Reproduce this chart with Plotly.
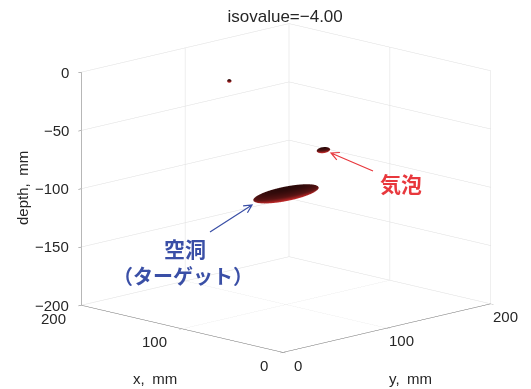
import numpy as np
import plotly.graph_objects as go

# ---------------- data ----------------
x_ticks = [0, 100, 200]
y_ticks = [0, 100, 200]
z_ticks = [-200, -150, -100, -50, 0]
x_range = [0, 200]
y_range = [0, 200]
z_range = [-200, 0]

# isosurface blobs (centre and semi-axes, mm)
blob_names = ["cavity", "bubble", "speck"]
blob_cx = [100, 100, 150]
blob_cy = [100, 136, 94]
blob_cz = [-105, -75, -17]
blob_rx = [10, 3.5, 1.5]
blob_ry = [30, 5.5, 1.5]
blob_rz = [5, 2.3, 1.5]

title_text = "isovalue=−4.00"
W, H = 531, 389

fig = go.Figure()
u = np.linspace(0, 2 * np.pi, 48)
v = np.linspace(0, np.pi, 24)
U, V = np.meshgrid(u, v)
for i, name in enumerate(blob_names):
    ex = blob_cx[i] + blob_rx[i] * np.cos(U) * np.sin(V)
    ey = blob_cy[i] + blob_ry[i] * np.sin(U) * np.sin(V)
    ez = blob_cz[i] + blob_rz[i] * np.cos(V)
    nz = np.cos(V)
    # plotly X axis carries data y, plotly Y axis carries data x (view from x=0,y=0 corner)
    fig.add_trace(go.Surface(
        x=ey, y=ex, z=ez, surfacecolor=nz, cmin=-1, cmax=1,
        colorscale=[[0, "#e23a3a"], [0.35, "#a82222"], [0.6, "#5a1414"], [1, "#2a0909"]],
        showscale=False, name=name, hoverinfo="skip",
        lighting=dict(ambient=1, diffuse=0, specular=0, roughness=1, fresnel=0),
    ))

axis_common = dict(
    showbackground=False, gridcolor="#dedede", gridwidth=1,
    showline=True, linecolor="#6e6e6e", linewidth=1,
    zeroline=False, showspikes=False, ticks="outside", ticklen=4,
    tickcolor="#6e6e6e", showticklabels=False,
    title=dict(text=""),
)

m = 1.54
fig.update_layout(
    width=W, height=H, margin=dict(l=0, r=0, t=0, b=0),
    paper_bgcolor="white", plot_bgcolor="white",
    showlegend=False,
    font=dict(family="Liberation Sans", color="#262626"),
    title=dict(text=title_text, x=0.537, xanchor="center", y=0.958, yanchor="middle",
               font=dict(size=17, color="#262626", family="Liberation Sans")),
    scene=dict(
        domain=dict(x=[0.077, 1.0], y=[0.034, 1.0]),
        xaxis=dict(range=y_range, tickvals=y_ticks, **axis_common),
        yaxis=dict(range=x_range, tickvals=x_ticks, **axis_common),
        zaxis=dict(range=z_range, tickvals=z_ticks, **axis_common),
        aspectmode="manual", aspectratio=dict(x=1.015 * m, y=0.985 * m, z=0.828 * m),
        camera=dict(eye=dict(x=-1.0, y=-1.0, z=0.34), up=dict(x=0, y=0, z=1),
                    center=dict(x=0, y=0, z=0),
                    projection=dict(type="orthographic")),
    ),
)

# tick labels as scene annotations anchored at the tick positions
tick_font = dict(family="Liberation Sans", size=15, color="#262626")
scene_ann = []
for zt in z_ticks:
    scene_ann.append(dict(x=y_range[0], y=x_range[1], z=zt, text=f"{zt}".replace("-", "−"),
                          showarrow=False, xanchor="right", yanchor="middle", xshift=-10,
                          font=tick_font))
for xt in x_ticks:
    scene_ann.append(dict(x=y_range[0], y=xt, z=z_range[0], text=str(xt),
                          showarrow=False, xanchor="right", yanchor="middle", xshift=-13, yshift=-13,
                          font=tick_font))
for yt in y_ticks:
    scene_ann.append(dict(x=yt, y=x_range[0], z=z_range[0], text=str(yt),
                          showarrow=False, xanchor="center", yanchor="middle", xshift=15, yshift=-13,
                          font=tick_font))
fig.update_layout(scene_annotations=scene_ann)

def px(xp, yp):
    return xp / W, 1 - yp / H

annots = []
for txt, (xp, yp), ang in [("x,\u2002mm", (155, 378), 0), ("y,\u2002mm", (410, 378), 0),
                           ("depth,\u2002mm", (22, 188), -90)]:
    ax_, ay_ = px(xp, yp)
    annots.append(dict(text=txt, x=ax_, y=ay_, xref="paper", yref="paper", showarrow=False,
                       textangle=ang, xanchor="center", yanchor="middle",
                       font=dict(size=15, color="#262626", family="Liberation Sans")))

red = "#e8383d"
blue = "#3a4fa6"
for txt, (xp, yp), col, fs in [("気泡", (401, 183), red, 21), ("空洞", (185, 248), blue, 21),
                               ("（ターゲット）", (183, 275), blue, 20)]:
    ax_, ay_ = px(xp, yp)
    annots.append(dict(text="<b>" + txt + "</b>", x=ax_, y=ay_, xref="paper", yref="paper", showarrow=False,
                       xanchor="center", yanchor="middle",
                       font=dict(size=fs, color=col, family="Noto Sans CJK JP")))
fig.update_layout(annotations=annots)

# open arrows (pointer callouts)
def arrow(p0, p1, col):
    x0, y0 = p0
    x1, y1 = p1
    d = np.array([x1 - x0, y1 - y0], float)
    d /= np.linalg.norm(d)
    nrm = np.array([-d[1], d[0]])
    L, Wd = 8, 4
    a = np.array([x1, y1]) - L * d + Wd * nrm
    b = np.array([x1, y1]) - L * d - Wd * nrm
    def pp(q):
        X, Y = px(q[0], q[1])
        return f"{X:.5f},{Y:.5f}"
    path = f"M {pp((x0, y0))} L {pp((x1, y1))} M {pp(a)} L {pp((x1, y1))} L {pp(b)}"
    fig.add_shape(type="path", path=path, xref="paper", yref="paper",
                  line=dict(color=col, width=1.2))

arrow((373, 171), (331, 153), red)
arrow((210, 232), (252, 205), blue)

fig.write_html("out.html", config={"displayModeBar": False},
               post_script="document.body.style.margin='0';document.body.style.overflow='hidden';")
